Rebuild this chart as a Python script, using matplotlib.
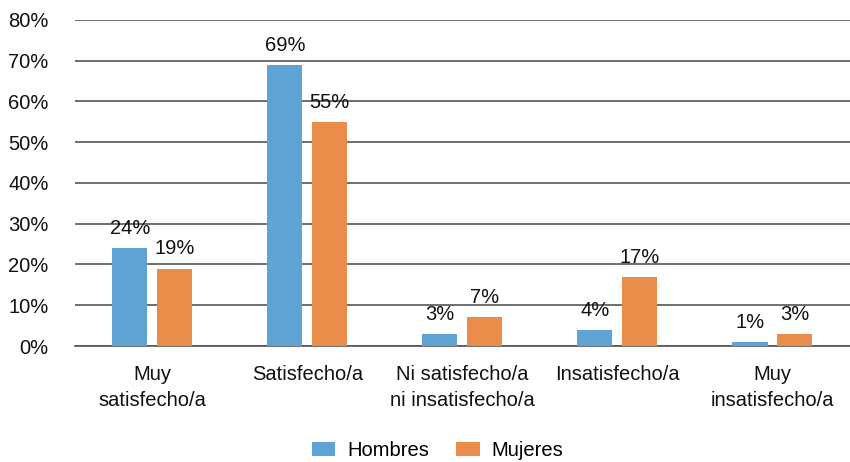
import matplotlib.pyplot as plt
import numpy as np

plt.rcParams['font.family'] = ['Liberation Sans', 'DejaVu Sans']

categorias = ['Muy\nsatisfecho/a', 'Satisfecho/a', 'Ni satisfecho/a\nni insatisfecho/a',
              'Insatisfecho/a', 'Muy\ninsatisfecho/a']
hombres = [24, 69, 3, 4, 1]
mujeres = [19, 55, 7, 17, 3]
yticks = [0, 10, 20, 30, 40, 50, 60, 70, 80]

azul = '#5fa2d4'
naranja = '#ea8c4a'
fs = 14.5

fig = plt.figure(figsize=(8.5, 4.62), dpi=100)
ax = fig.add_axes([0.088, 0.251, 0.912, 0.706])

x = np.arange(len(categorias))
w = 0.226
off = 0.145
b1 = ax.bar(x - off, hombres, w, color=azul, label='Hombres', zorder=3)
b2 = ax.bar(x + off, mujeres, w, color=naranja, label='Mujeres', zorder=3)

for bars, vals in ((b1, hombres), (b2, mujeres)):
    for b, v in zip(bars, vals):
        ax.text(b.get_x() + b.get_width() / 2, v + 2.5, f'{v}%',
                ha='center', va='bottom', fontsize=fs, color='#111111')

ax.set_xlim(-0.5, len(categorias) - 0.5)
ax.set_ylim(0, 80)
ax.set_yticks(yticks)
ax.set_yticklabels([f'{t}%' for t in yticks], fontsize=fs, color='#111111')
ax.set_xticks(x)
ax.set_xticklabels(categorias, fontsize=fs, color='#111111', linespacing=1.45)
ax.tick_params(axis='both', length=0)
ax.tick_params(axis='x', pad=14)
ax.tick_params(axis='y', pad=19)

ax.yaxis.grid(True, color='#555555', linewidth=1.2)
ax.set_axisbelow(True)
for s in ('top', 'right', 'left'):
    ax.spines[s].set_visible(False)
ax.spines['bottom'].set_color('#555555')
ax.spines['bottom'].set_linewidth(1.2)

fig.legend(handles=[b1, b2], labels=['Hombres', 'Mujeres'], loc='lower center',
           bbox_to_anchor=(0.515, -0.035), ncol=2, frameon=False, fontsize=fs,
           handlelength=1.15, handleheight=0.75, columnspacing=1.35, handletextpad=0.6)

fig.savefig('out.png', dpi=100)
